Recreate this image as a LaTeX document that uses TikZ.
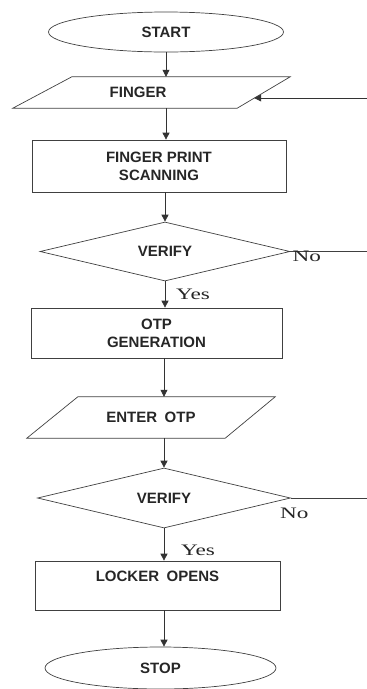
\documentclass[tikz,border=0pt]{standalone}
\usepackage{fontspec}
\setmainfont{Liberation Sans}
\newfontfamily\yesnofont[FakeStretch=1.45]{Liberation Serif}
\usetikzlibrary{shapes.geometric,arrows.meta}
\begin{document}
\begin{tikzpicture}[x=1pt, y=-1pt,
    every node/.style={font=\fontsize{15}{18}\selectfont\bfseries, text=black!85},
    outline/.style={draw=black!75, line width=0.7pt},
    term/.style={outline, ellipse, inner sep=0pt},
    io/.style={rectangle, inner sep=0pt},
    proc/.style={outline, rectangle, inner sep=0pt, align=center},
    dec/.style={outline, diamond, aspect=4, inner sep=0pt},
    lbl/.style={font=\yesnofont\fontsize{16}{18}\selectfont, inner sep=0pt},
    flow/.style={draw=black!80, line width=0.7pt, -{Triangle[length=7pt,width=7pt]}}]
    \useasboundingbox (0,0) rectangle (367,689);
    \coordinate (edge) at (367,0);

    \node[term, minimum width=235pt, minimum height=40pt] (start) at (166,32) {START};
    \node[io, minimum width=277pt, minimum height=31pt] (fin) at (151.5,92.5) {FINGER\hspace*{27pt}};
    \node[proc, minimum width=254pt, minimum height=52pt] (scan) at (159,166) {FINGER PRINT\\SCANNING};
    \node[dec, minimum width=250pt, minimum height=59pt] (ver1) at (165,251.5) {VERIFY};
    \node[proc, minimum width=251pt, minimum height=50pt] (otp) at (156.5,333) {OTP\\GENERATION};
    \node[io, minimum width=248pt, minimum height=41pt] (enter) at (151,417.5) {ENTER\enspace OTP};
    \node[dec, minimum width=253pt, minimum height=60pt] (ver2) at (164,498) {VERIFY};
    \node[proc, minimum width=245pt, minimum height=49pt] (lock) at (157.5,585.5) {LOCKER\enspace OPENS\\\mbox{}};
    \node[term, minimum width=231pt, minimum height=42pt] (stop) at (160.5,668) {STOP};

    % slanted input boxes
    \draw[outline] ([xshift=59pt]fin.north west) -- (fin.north east)
        -- ([xshift=-53pt]fin.south east) -- (fin.south west) -- cycle;
    \draw[outline] ([xshift=51pt]enter.north west) -- (enter.north east)
        -- ([xshift=-50pt]enter.south east) -- (enter.south west) -- cycle;
    \coordinate (finin) at ([xshift=-36pt,yshift=-5.5pt]fin.east);

    \draw[flow] (start.south) -- (start.south |- fin.north);
    \draw[flow] (start.south |- fin.south) -- (start.south |- scan.north);
    \draw[flow] (scan.south -| ver1.north) -- (ver1.north);
    \draw[flow] (ver1.south) -- (ver1.south |- otp.north);
    \draw[flow] (ver2.north |- otp.south) -- (ver2.north |- enter.north);
    \draw[flow] (ver2.north |- enter.south) -- (ver2.north);
    \draw[flow] (ver2.south) -- (ver2.south |- lock.north);
    \draw[flow] (ver2.south |- lock.south) -- (ver2.south |- stop.north);

    % back lines at the right
    \draw[flow] (finin -| edge) -- (finin);
    \draw[outline] (ver1.east) -- (ver1.east -| edge);
    \draw[outline] (ver2.east) -- (ver2.east -| edge);

    \node[lbl, anchor=west] (no1) at ([xshift=2pt,yshift=-5pt]ver1.east) {No};
    \node[lbl, anchor=west] (yes1) at ([xshift=11pt,yshift=-13pt]ver1.south) {Yes};
    \node[lbl] (no2) at ([xshift=3.5pt,yshift=-15pt]ver2.east) {No};
    \node[lbl, anchor=west] (yes2) at ([xshift=17pt,yshift=-22pt]ver2.south) {Yes};
\end{tikzpicture}
\end{document}
